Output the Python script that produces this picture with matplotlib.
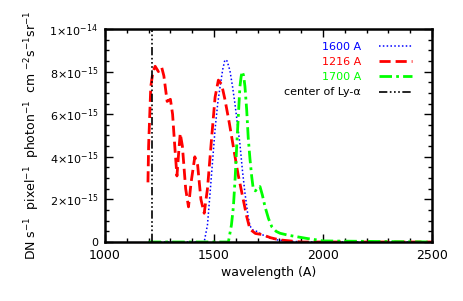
import matplotlib.pyplot as plt
from matplotlib.ticker import MultipleLocator

plt.rcParams['font.family'] = ['DejaVu Sans']
plt.rcParams['mathtext.default'] = 'regular'

# curves, values in units of 1e-15
wl_1216 = [1197, 1200, 1210, 1220, 1230, 1245, 1260, 1270, 1285, 1300, 1310, 1320, 1330, 1338,
           1345, 1355, 1370, 1383, 1395, 1412, 1425, 1440, 1455, 1470, 1490, 1505, 1520, 1535,
           1550, 1570, 1590, 1610, 1630, 1650, 1665, 1690, 1720, 1760, 1800, 1850, 1900, 2000, 2500]
val_1216 = [2.8, 4.5, 7.3, 8.0, 8.25, 8.0, 8.2, 7.8, 6.6, 6.7, 6.0, 4.5, 3.1, 4.2,
            5.1, 4.5, 2.5, 1.65, 2.8, 4.0, 3.6, 2.0, 1.35, 2.5, 5.0, 6.8, 7.6, 7.4,
            6.7, 5.6, 4.4, 3.2, 2.2, 1.2, 0.6, 0.4, 0.35, 0.2, 0.1, 0.05, 0.0, 0.0, 0.0]

wl_1600 = [1200, 1455, 1470, 1482, 1495, 1505, 1517, 1528, 1540, 1550, 1560, 1573, 1585, 1596,
           1608, 1619, 1630, 1642, 1655, 1665, 1680, 1696, 1720, 1742, 1765, 1790, 1850, 1950, 2500]
val_1600 = [0, 0, 0.8, 2.3, 4.0, 5.3, 6.5, 7.3, 8.1, 8.55, 8.5, 8.05, 7.3, 6.5,
            5.5, 4.6, 3.4, 2.3, 1.3, 0.75, 0.55, 0.5, 0.35, 0.25, 0.15, 0.1, 0.03, 0, 0]

wl_1700 = [1200, 1566, 1580, 1589, 1597, 1604, 1612, 1619, 1625, 1630, 1636, 1642, 1650, 1657,
           1665, 1673, 1680, 1690, 1700, 1711, 1722, 1734, 1750, 1765, 1785, 1803, 1840, 1879,
           1930, 1971, 2000, 2500]
val_1700 = [0, 0, 0.8, 1.66, 3.0, 4.47, 6.0, 7.3, 7.8, 8.0, 7.8, 7.3, 6.2, 4.9,
            3.9, 3.07, 2.5, 2.4, 2.55, 2.6, 2.2, 1.66, 1.1, 0.72, 0.5, 0.41, 0.32, 0.25,
            0.16, 0.1, 0.05, 0]

ly_alpha = 1216
yticks = [0, 2e-15, 4e-15, 6e-15, 8e-15, 1e-14]
ytick_labels = ['0', r'2$\times$10$^{-15}$', r'4$\times$10$^{-15}$', r'6$\times$10$^{-15}$',
                r'8$\times$10$^{-15}$', r'1$\times$10$^{-14}$']

fig = plt.figure(figsize=(4.63, 3.01), dpi=100)
ax = fig.add_axes([0.2268, 0.196, 0.7062, 0.7077])

ax.plot(wl_1600, [v * 1e-15 for v in val_1600], color='#0000ff', lw=1.1,
        linestyle=(0, (1, 1.5)), label='1600 A')
ax.plot(wl_1216, [v * 1e-15 for v in val_1216], color='#ff0000', lw=2,
        linestyle=(0, (4, 1.8)), label='1216 A')
ax.plot(wl_1700, [v * 1e-15 for v in val_1700], color='#00ff00', lw=2,
        linestyle=(0, (4.5, 1.5, 1, 1.5)), label='1700 A')
ax.plot([ly_alpha, ly_alpha], [0, 1e-14], color='black', lw=1.2,
        linestyle=(0, (5, 1.5, 1, 1.5, 1, 1.5, 1, 1.5)), label='center of Ly-α')

ax.set_xlim(1000, 2500)
ax.set_ylim(0, 1e-14)
ax.set_xticks([1000, 1500, 2000, 2500])
ax.xaxis.set_minor_locator(MultipleLocator(100))
ax.set_yticks(yticks)
ax.set_yticklabels(ytick_labels)
ax.yaxis.set_minor_locator(MultipleLocator(5e-16))
ax.tick_params(which='both', direction='in', top=True, right=True, width=1)
ax.tick_params(axis='x', labelsize=9)
ax.tick_params(axis='y', labelsize=8)
ax.tick_params(which='major', length=6, pad=5)
ax.tick_params(which='minor', length=3)
for s in ax.spines.values():
    s.set_linewidth(1.8)

ax.set_xlabel('wavelength (A)', fontsize=9, labelpad=3)
ax.set_ylabel('DN s$^{-1}$  pixel$^{-1}$  photon$^{-1}$  cm $^{-2}$s$^{-1}$sr$^{-1}$', fontsize=9, labelpad=5)

leg = ax.legend(loc='upper right', bbox_to_anchor=(0.94, 0.94), frameon=False, markerfirst=False,
                fontsize=8, labelcolor='linecolor', handlelength=3.0, handletextpad=1.6,
                labelspacing=0.47, borderpad=0, borderaxespad=0)

fig.savefig('out.png', dpi=100)
